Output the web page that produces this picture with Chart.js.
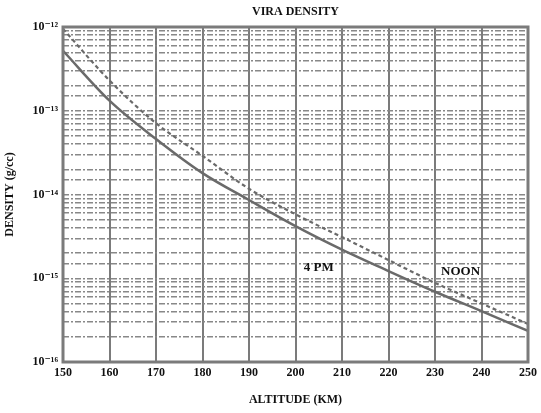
<!DOCTYPE html>
<html>
<head>
<meta charset="utf-8">
<script src="https://cdn.jsdelivr.net/npm/chart.js@4.4.1/dist/chart.umd.min.js"></script>
<style>
    html, body { margin: 0; padding: 0; background: #fff; }
    #wrap { width: 541px; height: 413px; }
</style>
</head>
<body>
<div id="wrap"><canvas id="densityChart"></canvas></div>
<script>
// --- Data ---
const altitudes = [150, 160, 170, 180, 190, 200, 210, 220, 230, 240, 250];
const density4pm = [5.2e-13, 1.32e-13, 4.6e-14, 1.8e-14, 8.6e-15, 4.2e-15, 2.2e-15, 1.22e-15, 6.9e-16, 4.05e-16, 2.35e-16];
const densityNoon = [9.5e-13, 2.3e-13, 7.1e-14, 2.9e-14, 1.17e-14, 5.8e-15, 3.1e-15, 1.65e-15, 8.8e-16, 5.0e-16, 2.85e-16];
const curveLabels = ['4 PM', 'NOON'];
const labelAltitudes = [205, 235.5];
const labelDensities = [1.33e-15, 1.2e-15];

const GRAY = '#7b7b7b';
const LINE = '#6a6a6a';
const SERIF = '"Liberation Serif", "DejaVu Serif", serif';

const SUP = { '-': '\u207B', '0': '\u2070', '1': '\u00B9', '2': '\u00B2', '3': '\u00B3',
    '4': '\u2074', '5': '\u2075', '6': '\u2076', '7': '\u2077', '8': '\u2078', '9': '\u2079' };

function powerLabel(value) {
    const e = Math.log10(value);
    if (Math.abs(e - Math.round(e)) > 1e-6) return '';
    return '10' + String(Math.round(e)).split('').map(c => SUP[c]).join('');
}

// --- Plugins ---
const frameAndText = {
    id: 'frameAndText',
    afterDatasetsDraw(chart) {
        const { ctx, chartArea: a, scales } = chart;
        ctx.save();
        ctx.strokeStyle = GRAY;
        ctx.lineWidth = 3;
        ctx.strokeRect(a.left, a.top, a.right - a.left, a.bottom - a.top);

        ctx.fillStyle = '#111';
        ctx.textAlign = 'center';
        ctx.textBaseline = 'middle';
        ctx.font = 'bold 12px ' + SERIF;
        ctx.fillText('VIRA DENSITY', (a.left + a.right) / 2, 12);

        ctx.font = 'bold 13px ' + SERIF;
        curveLabels.forEach((t, i) => {
            const x = scales.x.getPixelForValue(labelAltitudes[i]);
            const y = scales.y.getPixelForValue(labelDensities[i]);
            ctx.fillText(t, x, y);
        });
        ctx.restore();
    }
};

// --- Chart ---
const ctx = document.getElementById('densityChart').getContext('2d');
new Chart(ctx, {
    type: 'line',
    data: {
        datasets: [
            {
                label: 'NOON',
                data: altitudes.map((a, i) => ({ x: a, y: densityNoon[i] })),
                borderColor: LINE,
                borderWidth: 2.2,
                borderDash: [4, 3],
                pointRadius: 0,
                cubicInterpolationMode: 'monotone',
                fill: false
            },
            {
                label: '4 PM',
                data: altitudes.map((a, i) => ({ x: a, y: density4pm[i] })),
                borderColor: LINE,
                borderWidth: 2.5,
                pointRadius: 0,
                cubicInterpolationMode: 'monotone',
                fill: false
            }
        ]
    },
    options: {
        responsive: true,
        maintainAspectRatio: false,
        animation: false,
        devicePixelRatio: 1,
        layout: { padding: { top: 27, right: 11, left: 0, bottom: 0 } },
        plugins: {
            legend: { display: false },
            tooltip: { enabled: false }
        },
        scales: {
            x: {
                type: 'linear',
                min: 150,
                max: 250,
                afterFit: s => { s.height = 51; },
                ticks: {
                    stepSize: 10,
                    padding: 4,
                    color: '#111',
                    font: { family: SERIF, size: 12, weight: 'bold' }
                },
                grid: { color: GRAY, lineWidth: 2, drawTicks: false },
                border: { display: false },
                title: {
                    display: true,
                    text: 'ALTITUDE (KM)',
                    color: '#111',
                    font: { family: SERIF, size: 12, weight: 'bold' },
                    padding: { top: 0, bottom: 6 }
                }
            },
            y: {
                type: 'logarithmic',
                min: 1e-16,
                max: 1e-12,
                afterFit: s => { s.width = 63; },
                ticks: {
                    autoSkip: false,
                    padding: 5,
                    color: '#111',
                    font: { family: SERIF, size: 12, weight: 'bold' },
                    callback: v => powerLabel(v)
                },
                grid: { color: '#888', lineWidth: 1.4, drawTicks: false },
                border: { display: false, dash: [6, 2, 2, 2] },
                title: {
                    display: true,
                    text: 'DENSITY (g/cc)',
                    color: '#111',
                    font: { family: SERIF, size: 12, weight: 'bold' },
                    padding: { top: 3, bottom: 0 }
                }
            }
        }
    },
    plugins: [frameAndText]
});
</script>
</body>
</html>
